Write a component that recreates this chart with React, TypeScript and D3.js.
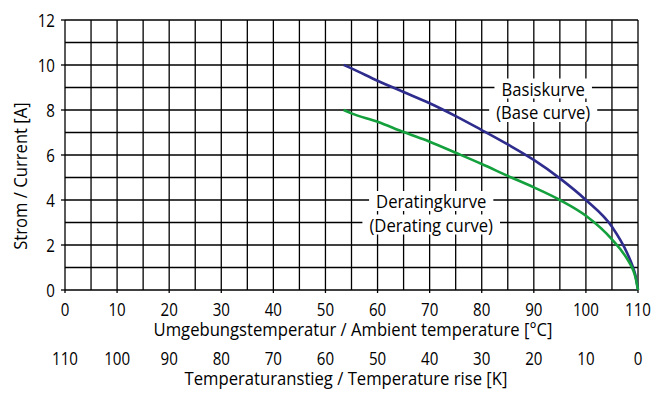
import React, { useLayoutEffect, useRef, useState } from "react";
import * as d3 from "d3";

const baseCurve: [number, number][] = [
  [53.5, 10], [55, 9.85], [60, 9.3], [65, 8.8], [70, 8.3], [75, 7.73], [80, 7.11],
  [85, 6.47], [90, 5.78], [95, 4.96], [100, 4.0], [105, 2.81], [108, 1.6],
  [109, 1.04], [109.5, 0.66], [110, 0],
];
const deratingCurve: [number, number][] = [
  [53.5, 8], [55, 7.85], [60, 7.48], [65, 7.02], [70, 6.59], [75, 6.1], [80, 5.6],
  [85, 5.07], [90, 4.56], [95, 4.0], [100, 3.3], [105, 2.25], [108, 1.35],
  [109, 0.92], [109.5, 0.58], [110, 0],
];
const xTicks = [0, 10, 20, 30, 40, 50, 60, 70, 80, 90, 100, 110];
const riseTicks = [110, 100, 90, 80, 70, 60, 50, 40, 30, 20, 10, 0];
const yTicks = [0, 2, 4, 6, 8, 10, 12];
const xGrid = d3.range(0, 111, 5);
const yGrid = d3.range(0, 13, 1);
const curveLabels = [
  { lines: ["Basiskurve", "(Base curve)"], t: 91.8, v: 9 },
  { lines: ["Deratingkurve", "(Derating curve)"], t: 70.3, v: 4 },
];

const W = 652, H = 394;
const FONT = "'Open Sans', sans-serif";
const FS = 18;
const SX_TEXT = 0.925;
const SX_NUM = 0.84;

function T({ x, y, sx, anchor = "middle", baseline, children }: any) {
  return (
    <text transform={`translate(${x},${y}) scale(${sx},1)`} textAnchor={anchor}
      dominantBaseline={baseline} fontSize={FS} fill="#000">{children}</text>
  );
}

function BoxLabel({ x, y, text }: { x: number; y: number; text: string }) {
  const ref = useRef<SVGTextElement>(null);
  const [w, setW] = useState(0);
  useLayoutEffect(() => {
    if (ref.current) setW(ref.current.getBBox().width * SX_TEXT);
  }, [text]);
  return (
    <g>
      <rect x={x - w / 2 - 7} y={y - 10} width={w + 14} height={20} fill="#fff" />
      <text ref={ref} transform={`translate(${x},${y}) scale(${SX_TEXT},1)`} textAnchor="middle"
        dominantBaseline="central" fontSize={FS} fill="#000">{text}</text>
    </g>
  );
}

export default function App() {
  const x = d3.scaleLinear().domain([0, 110]).range([65, 638]);
  const y = d3.scaleLinear().domain([0, 12]).range([290, 20]);
  const line = d3.line<[number, number]>().x(d => x(d[0])).y(d => y(d[1])).curve(d3.curveMonotoneX);
  return (
    <svg width={W} height={H} style={{ position: "absolute", left: 0, top: 0, background: "#fff" }} fontFamily={FONT}>
      <rect width={W} height={H} fill="#fff" />
      {xGrid.map(v => (
        <line key={"gx" + v} x1={x(v)} x2={x(v)} y1={y(12)} y2={y(0)} stroke="#000" strokeWidth={1.3} />
      ))}
      {yGrid.map(v => (
        <line key={"gy" + v} x1={x(0)} x2={x(110)} y1={y(v)} y2={y(v)} stroke="#000" strokeWidth={1.3} />
      ))}
      {yTicks.map(v => (
        <line key={"ty" + v} x1={x(0) - 4} x2={x(0)} y1={y(v)} y2={y(v)} stroke="#000" strokeWidth={1.3} />
      ))}
      {xTicks.map(v => (
        <line key={"tx" + v} x1={x(v)} x2={x(v)} y1={y(0)} y2={y(0) + 3} stroke="#000" strokeWidth={1.3} />
      ))}
      {curveLabels.map((l, i) => (
        <g key={"l" + i}>
          {l.lines.map((t, j) => (
            <BoxLabel key={j} x={x(l.t)} y={y(l.v) + 1 + j * 23.5} text={t} />
          ))}
        </g>
      ))}
      <path d={line(baseCurve) || ""} fill="none" stroke="#2e2c8c" strokeWidth={2.6} />
      <path d={line(deratingCurve) || ""} fill="none" stroke="#14a03c" strokeWidth={2.6} />
      {yTicks.map(v => (
        <T key={"yl" + v} x={55} y={y(v)} sx={SX_NUM} anchor="end" baseline="central">{v}</T>
      ))}
      {xTicks.map(v => (
        <T key={"xl" + v} x={x(v)} y={316} sx={SX_NUM}>{v}</T>
      ))}
      <T x={353} y={336} sx={SX_TEXT}>Umgebungstemperatur / Ambient temperature [°C]</T>
      {riseTicks.map((v, i) => (
        <T key={"rl" + v} x={x(xTicks[i])} y={365} sx={SX_NUM}>{v}</T>
      ))}
      <T x={346} y={385} sx={SX_TEXT}>Temperaturanstieg / Temperature rise [K]</T>
      <text transform={`translate(20,176) rotate(-90) scale(${SX_TEXT},1)`} textAnchor="middle"
        dominantBaseline="central" fontSize={FS}>Strom / Current [A]</text>
    </svg>
  );
}
